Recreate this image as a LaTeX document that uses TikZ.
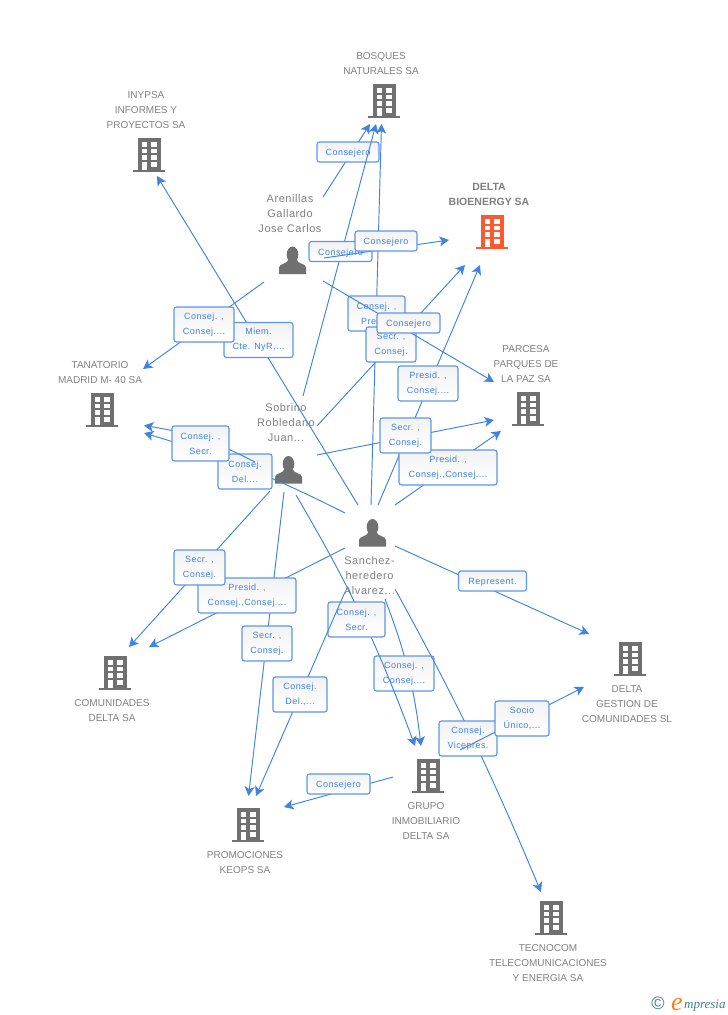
\documentclass[tikz,border=0pt]{standalone}
\usepackage{fontspec}
\usetikzlibrary{arrows.meta}
\setmainfont{Liberation Sans}
\newfontfamily\relfont[LetterSpace=5]{Liberation Sans}
\newfontfamily\perfont[LetterSpace=5]{Liberation Sans}
\newfontfamily\logofont{Liberation Serif}
\definecolor{linkBlue}{HTML}{3F83E4}
\definecolor{labelGrey}{HTML}{808080}
\definecolor{iconGrey}{HTML}{707070}
\definecolor{iconRed}{HTML}{FF5A2D}
\definecolor{logoTeal}{HTML}{3F7F94}
\definecolor{logoOrange}{HTML}{F58220}
\tikzset{
  link/.style={draw=linkBlue,line width=0.95pt,-{Stealth[length=9.5pt,width=10pt,inset=2.5pt]}},
  rel/.style={draw=linkBlue!85!white,line width=1.15pt,rounded corners=2.5pt,top color=black!5,bottom color=white,
    text=linkBlue,font={\relfont\fontsize{9}{15}\selectfont},align=center,inner sep=0pt,minimum height=35pt,minimum width=#1,
    execute at begin node={\rule{0pt}{9pt}}},
  relone/.style={rel=#1,minimum height=20pt},
  company/.style={text=labelGrey,font={\fontsize{10}{15}\selectfont},align=center,inner sep=0pt},
  person/.style={text=labelGrey,font={\perfont\fontsize{11}{15}\selectfont},align=center,inner sep=0pt},
  pics/building/.style={code={
    \fill[#1] (-11,-17) rectangle (12,15);
    \fill[#1] (-16,14.5) rectangle (16,17);
    \fill[white] (-7.5,-13) rectangle (-2,-8.5);
    \fill[white] (2,-13) rectangle (7.5,-8.5);
    \fill[white] (-7.5,-6.5) rectangle (-2,-2);
    \fill[white] (2,-6.5) rectangle (7.5,-2);
    \fill[white] (-7.5,0) rectangle (-2,4.5);
    \fill[white] (2,0) rectangle (7.5,4.5);
    \fill[white] (-7.5,7) rectangle (-2,14.5);
    \fill[white] (2,7) rectangle (7.5,11.5);
  }},
  pics/human/.style={code={
    \fill[iconGrey] (0,-6) ellipse (5.8 and 8);
    \fill[iconGrey] (-13.5,13.5) -- (-13.5,7) .. controls (-13.5,3) and (-5,3.5) .. (-4,-1)
      -- (4,-1) .. controls (5,3.5) and (13.5,3) .. (13.5,7) -- (13.5,13.5) -- cycle;
  }},
}
\begin{document}
\begin{tikzpicture}[x=1pt,y=-1pt]
\useasboundingbox (0,0) rectangle (728,1015);

\coordinate (bosTipA) at (370,124);
\coordinate (bosTipB) at (376,124);
\coordinate (bosTipC) at (381.5,124);
\coordinate (delTipA) at (449,240);
\coordinate (delTipB) at (465,265);
\coordinate (delTipC) at (480,265);
\coordinate (parTipA) at (494,382);
\coordinate (parTipB) at (494,420);
\coordinate (parTipC) at (501,431);
\coordinate (inyTip) at (157,176);
\coordinate (tanTipA) at (143,369);
\coordinate (tanTipB) at (144,425.5);
\coordinate (tanTipC) at (144,433);
\coordinate (comTipA) at (129,647);
\coordinate (comTipB) at (149,647);
\coordinate (proTipA) at (248.5,796);
\coordinate (proTipB) at (256,796);
\coordinate (proTipC) at (284,807);
\coordinate (gruTipA) at (415,746);
\coordinate (gruTipB) at (421,746);
\coordinate (gesTipA) at (589,634);
\coordinate (gesTipB) at (584,687);
\coordinate (tecTip) at (541,892);

\coordinate (areA) at (323,197);
\coordinate (areB) at (324,258);
\coordinate (areC) at (323,281);
\coordinate (areD) at (264,282);
\coordinate (sobA) at (303,396);
\coordinate (sobB) at (317,426);
\coordinate (sobC) at (317,455);
\coordinate (sobD) at (255,462);
\coordinate (sobE) at (270,491);
\coordinate (sobF) at (284,492);
\coordinate (sobG) at (296,495);
\coordinate (sanA) at (371,505);
\coordinate (sanB) at (378,505);
\coordinate (sanC) at (395,505);
\coordinate (sanD) at (358,505);
\coordinate (sanE) at (345,513);
\coordinate (sanF) at (345,548);
\coordinate (sanG) at (345,592);
\coordinate (sanH) at (385,599);
\coordinate (sanI) at (395,546);
\coordinate (sanJ) at (395,589);
\coordinate (gruA) at (393,777);
\coordinate (gruB) at (460,750);

\pic at (384,101) {building=iconGrey};
\pic at (149,155) {building=iconGrey};
\pic at (492,232) {building=iconRed};
\pic at (102,410) {building=iconGrey};
\pic at (528,409) {building=iconGrey};
\pic at (115,673) {building=iconGrey};
\pic at (630,659) {building=iconGrey};
\pic at (428,776) {building=iconGrey};
\pic at (248,825) {building=iconGrey};
\pic at (551,918) {building=iconGrey};
\pic at (292.5,260.5) {human};
\pic at (288.5,470) {human};
\pic at (372.5,533) {human};

\node[company] (bosques) at (381,64) {BOSQUES\\NATURALES SA};
\node[company] (inypsa) at (146,110.5) {INYPSA\\INFORMES Y\\PROYECTOS SA};
\node[company,font={\bfseries\fontsize{10.5}{15}\selectfont}] (delta) at (489,194) {DELTA\\BIOENERGY SA};
\node[company] (tanatorio) at (100,373) {TANATORIO\\MADRID M- 40 SA};
\node[company] (parcesa) at (526,364.5) {PARCESA\\PARQUES DE\\LA PAZ SA};
\node[company] (comunidades) at (112,711) {COMUNIDADES\\DELTA SA};
\node[company] (gestion) at (627,704.5) {DELTA\\GESTION DE\\COMUNIDADES SL};
\node[company] (grupo) at (426,821.5) {GRUPO\\INMOBILIARIO\\DELTA SA};
\node[company] (promociones) at (245,863) {PROMOCIONES\\KEOPS SA};
\node[company] (tecnocom) at (548,963.5) {TECNOCOM\\TELECOMUNICACIONES\\Y ENERGIA SA};
\node[person] (arenillas) at (290,213.5) {Arenillas\\Gallardo\\Jose Carlos};
\node[person] (sobrino) at (286,422.5) {Sobrino\\Robledano\\Juan...};
\node[person] (sanchez) at (369.5,575.5) {Sanchez-\\heredero\\Alvarez...};

\draw[link] (areA) -- (bosTipA);
\node[relone=62pt] (relA) at (348,152) {Consejero};

\draw[link] (sanD) -- (inyTip);
\node[rel=69pt] (relB) at (258.5,340) {Miem.\\Cte. NyR,...};

\draw[link] (areD) -- (tanTipA);
\node[rel=60pt] (relC) at (204,324.5) {Consej. ,\\Consej....};

\draw[link] (sobA) -- (bosTipB);
\node[relone=63pt] (relD) at (340.5,251.5) {Consejero};

\draw[link] (sanA) -- (bosTipC);
\node[rel=57pt] (relE) at (376.5,313.5) {Consej. ,\\Presid.};

\draw[link] (areB) -- (delTipA);
\node[relone=62pt] (relF) at (386,241) {Consejero};

\draw[link] (sobB) -- (delTipB);
\node[rel=50pt] (relG) at (391,344.5) {Secr. ,\\Consej.};

\draw[link] (sanB) -- (delTipC);
\node[rel=60pt] (relH) at (428,383.5) {Presid. ,\\Consej....};

\draw[link] (areC) -- (parTipA);
\node[relone=63pt] (relI) at (408.5,323) {Consejero};

\draw[link] (sanC) -- (parTipC);
\node[rel=98pt] (relJ) at (448,467.5) {Presid. ,\\Consej.,Consej....};

\draw[link] (sobC) -- (parTipB);
\node[rel=51pt] (relK) at (405.5,435.5) {Secr. ,\\Consej.};

\draw[link] (sanE) to[bend right=5] (tanTipC);
\node[rel=54pt] (relL) at (245,471.5) {Consej.\\Del....};

\draw[link] (sobD) to[bend right=9] (tanTipB);
\node[rel=57pt] (relM) at (200.5,443.5) {Consej. ,\\Secr.};

\draw[link] (sobF) -- (proTipA);
\node[rel=50pt] (relN) at (267,643.5) {Secr. ,\\Consej.};

\draw[link] (sanF) -- (comTipB);
\node[rel=98pt] (relO) at (247,595.5) {Presid. ,\\Consej.,Consej....};

\draw[link] (sobE) -- (comTipA);
\node[rel=51pt] (relP) at (199.5,567.5) {Secr. ,\\Consej.};

\draw[link] (sanH) to[bend left=7] (gruTipB);
\node[rel=60pt] (relQ) at (404,673.5) {Consej. ,\\Consej....};

\draw[link] (sobG) to[bend left=5] (gruTipA);
\node[rel=57pt] (relR) at (356.5,619.5) {Consej. ,\\Secr.};

\draw[link] (sanG) -- (proTipB);
\node[rel=54pt] (relS) at (300,694.5) {Consej.\\Del.,...};

\draw[link] (gruA) -- (proTipC);
\node[relone=63pt] (relT) at (338.5,784) {Consejero};

\draw[link] (sanI) -- (gesTipA);
\node[relone=68pt] (relU) at (492.5,581) {Represent.};

\draw[link] (sanJ) to[bend left=3] (tecTip);
\node[rel=58pt] (relV) at (468,738.5) {Consej.\\Vicepres.};

\draw[link] (gruB) -- (gesTipB);
\node[rel=54pt] (relW) at (522,718.5) {Socio\\Único,...};

\node[text=logoTeal,font={\fontsize{18}{18}\selectfont},inner sep=0pt] (logoC) at (658,1003.5) {©};
\node[text=logoOrange,font={\logofont\itshape\fontsize{26}{26}\selectfont},inner sep=0pt,anchor=base] (logoE) at (677,1010) {e};
\node[text=logoTeal,font={\logofont\itshape\fontsize{13}{13}\selectfont},inner sep=0pt,anchor=base west] (logoM) at (684,1008) {mpresia};

\end{tikzpicture}
\end{document}
